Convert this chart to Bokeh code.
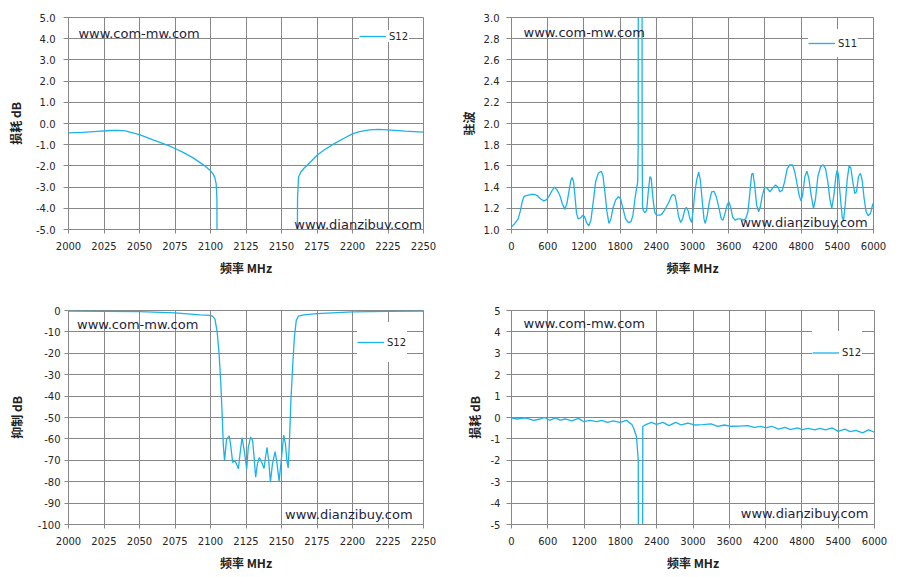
from bokeh.plotting import figure
from bokeh.models import (FixedTicker, NumeralTickFormatter, Legend, LegendItem,
                          Label, Range1d)
from bokeh.layouts import column, row
from bokeh.embed import file_html
from bokeh.resources import INLINE

# ---------------- data ----------------
# Chart 1: S12 insertion loss, 2000-2250 MHz
f_s12_pass = [2000, 2010, 2020, 2030, 2035, 2040, 2050, 2060, 2070, 2075, 2080, 2087.5,
              2095, 2100, 2102, 2103, 2104, 2104.5, 2105, 2160.8, 2161.3, 2162, 2163.5,
              2166, 2170, 2175, 2180, 2187.5, 2195, 2200, 2205, 2212, 2218, 2225, 2237, 2250]
s12_pass = [-0.44, -0.42, -0.37, -0.33, -0.32, -0.35, -0.52, -0.78, -1.03, -1.18, -1.34, -1.61,
            -1.95, -2.23, -2.40, -2.54, -2.85, -3.5, -12.0, -12.0, -3.5, -2.54, -2.30,
            -2.10, -1.84, -1.50, -1.25, -0.94, -0.66, -0.49, -0.38, -0.30, -0.28, -0.30, -0.36, -0.41]

# Chart 2: S11 VSWR, 0-6000 MHz
f_s11 = [0, 55, 111, 149, 177, 205, 243, 315, 387, 426, 481, 536, 575, 619, 675, 713, 758,
         802, 841, 885, 918, 951, 984, 1006, 1029, 1051, 1078, 1106, 1145, 1183, 1211, 1244,
         1283, 1316, 1355, 1394, 1438, 1488, 1515, 1548, 1582, 1615, 1648, 1681, 1725, 1770,
         1808, 1847, 1891, 1936, 1980, 2013, 2046, 2074, 2092, 2100, 2104, 2160, 2165, 2172,
         2184, 2212, 2240, 2267, 2295, 2317, 2339, 2372, 2405, 2460, 2499, 2554, 2610, 2654,
         2682, 2710, 2737, 2770, 2803, 2836, 2870, 2898, 2925, 2958, 2986, 3014, 3041, 3069,
         3102, 3130, 3163, 3190, 3212, 3245, 3279, 3317, 3356, 3395, 3439, 3477, 3505, 3538,
         3577, 3604, 3632, 3665, 3704, 3753, 3798, 3842, 3881, 3919, 3952, 3980, 4002, 4030,
         4063, 4096, 4124, 4157, 4195, 4239, 4283, 4327, 4377, 4416, 4449, 4488, 4526, 4570,
         4614, 4659, 4697, 4736, 4769, 4797, 4824, 4863, 4896, 4929, 4968, 5006, 5039, 5078,
         5122, 5166, 5205, 5243, 5276, 5309, 5343, 5376, 5398, 5420, 5453, 5481, 5503, 5530,
         5563, 5596, 5624, 5657, 5690, 5718, 5751, 5784, 5812, 5845, 5878, 5911, 5950, 5983,
         6000]
vswr_s11 = [1.025, 1.057, 1.10, 1.18, 1.26, 1.31, 1.32, 1.33, 1.33, 1.32, 1.29, 1.27, 1.28,
            1.31, 1.37, 1.40, 1.37, 1.32, 1.245, 1.19, 1.245, 1.355, 1.465, 1.49, 1.45, 1.32,
            1.15, 1.10, 1.11, 1.135, 1.12, 1.066, 1.035, 1.088, 1.26, 1.45, 1.53, 1.55, 1.51,
            1.355, 1.167, 1.057, 1.10, 1.20, 1.277, 1.31, 1.29, 1.20, 1.10, 1.066, 1.072, 1.135,
            1.29, 1.39, 1.45, 1.8, 9.0, 9.0, 1.8, 1.22, 1.18, 1.16, 1.18, 1.355, 1.50, 1.48,
            1.32, 1.167, 1.135, 1.135, 1.15, 1.20, 1.26, 1.32, 1.33, 1.32, 1.245, 1.12, 1.066,
            1.10, 1.18, 1.21, 1.18, 1.10, 1.066, 1.20, 1.36, 1.465, 1.54, 1.465, 1.26, 1.10,
            1.057, 1.135, 1.26, 1.355, 1.36, 1.31, 1.20, 1.10, 1.088, 1.15, 1.236, 1.26, 1.21,
            1.12, 1.088, 1.10, 1.10, 1.088, 1.10, 1.167, 1.355, 1.52, 1.53, 1.42, 1.23, 1.167,
            1.214, 1.32, 1.40, 1.39, 1.355, 1.39, 1.42, 1.40, 1.355, 1.37, 1.45, 1.575, 1.61,
            1.61, 1.54, 1.42, 1.32, 1.27, 1.32, 1.50, 1.55, 1.48, 1.32, 1.20, 1.29, 1.50, 1.59,
            1.61, 1.575, 1.45, 1.29, 1.20, 1.32, 1.50, 1.56, 1.51, 1.29, 1.12, 1.08, 1.23,
            1.465, 1.60, 1.58, 1.45, 1.34, 1.355, 1.50, 1.53, 1.465, 1.29, 1.167, 1.13, 1.15,
            1.23, 1.25]

# Chart 3: S12 rejection, 2000-2250 MHz
f_s12_rej = [2000, 2025, 2050, 2075, 2092.5, 2100, 2101.4, 2103.1, 2104.7, 2106.1, 2107.3,
             2108.3, 2109.0, 2109.9, 2111.3, 2113.2, 2114.4, 2115.6, 2117.0, 2118.4, 2119.6,
             2120.8, 2122.2, 2123.6, 2125.5, 2126.6, 2128.3, 2129.7, 2130.9, 2131.8, 2133.0,
             2134.4, 2136.1, 2137.7, 2138.7, 2139.8, 2141.0, 2142.2, 2143.6, 2145.5, 2146.9,
             2148.3, 2149.8, 2151.6, 2152.8, 2153.8, 2154.7, 2155.6, 2156.6, 2157.8, 2159.0,
             2160.4, 2162.0, 2165.6, 2175, 2200, 2225, 2250]
s12_rej = [-0.3, -0.4, -0.5, -1.1, -2.0, -2.3, -2.6, -3.9, -10.0, -20.8, -34.7, -50.0, -62.5,
           -70.2, -60.2, -58.6, -64.0, -71.0, -70.2, -71.8, -74.0, -67.0, -59.4, -64.8, -74.0,
           -64.0, -59.1, -60.9, -70.2, -77.9, -71.8, -68.7, -71.0, -73.8, -68.7, -64.0, -70.2,
           -80.2, -71.8, -65.9, -71.8, -79.8, -70.2, -58.2, -62.5, -70.2, -73.6, -61.0, -42.4,
           -27.0, -13.1, -4.6, -2.6, -2.0, -1.5, -0.6, -0.4, -0.3]

# Chart 4: S12 wideband loss, 0-6000 MHz
f_s12_wide = [0, 93, 230, 367, 477, 548, 630, 723, 805, 888, 997, 1107, 1189, 1299, 1408, 1490,
              1584, 1682, 1792, 1902, 1950, 1990, 2020, 2066, 2095, 2102, 2165, 2170, 2219, 2312,
              2395, 2504, 2603, 2713, 2806, 2916, 3025, 3162, 3299, 3409, 3518, 3628, 3765, 3902,
              4012, 4121, 4203, 4302, 4411, 4521, 4614, 4724, 4806, 4904, 5014, 5097, 5190, 5299,
              5398, 5508, 5600, 5693, 5803, 5902, 6000]
s12_wide = [-0.02, -0.07, -0.02, -0.13, -0.07, 0.0, -0.13, -0.02, -0.12, -0.07, -0.16, -0.04,
            -0.19, -0.13, -0.19, -0.13, -0.23, -0.16, -0.23, -0.13, -0.25, -0.33, -0.50, -0.90,
            -2.0, -12.0, -12.0, -0.42, -0.33, -0.23, -0.32, -0.23, -0.38, -0.23, -0.35, -0.26,
            -0.35, -0.33, -0.30, -0.41, -0.35, -0.41, -0.40, -0.38, -0.46, -0.41, -0.49, -0.41,
            -0.54, -0.46, -0.57, -0.48, -0.57, -0.51, -0.58, -0.51, -0.58, -0.48, -0.65, -0.54,
            -0.66, -0.60, -0.72, -0.58, -0.69]

# ticks
ticks_x_narrow = [2000, 2025, 2050, 2075, 2100, 2125, 2150, 2175, 2200, 2225, 2250]
ticks_x_wide = [0, 600, 1200, 1800, 2400, 3000, 3600, 4200, 4800, 5400, 6000]
ticks_y_loss = [-5, -4, -3, -2, -1, 0, 1, 2, 3, 4, 5]
ticks_y_vswr = [1.0, 1.2, 1.4, 1.6, 1.8, 2.0, 2.2, 2.4, 2.6, 2.8, 3.0]
ticks_y_rej = [-100, -90, -80, -70, -60, -50, -40, -30, -20, -10, 0]

LINE = "#1AB2EC"
GRID = "#878787"
TXT = "#262626"
WM = "#1E1E3C"
CJK = "Noto Sans CJK SC"
NUM = "DejaVu Sans"


def make_fig(xr, yr, w, h, bl, br, bt, bb, xt, yt, yfmt, ylab,
             y_tout, y_std, y_als):
    p = figure(width=w, height=h, x_range=Range1d(*xr), y_range=Range1d(*yr),
               output_backend="svg", toolbar_location=None,
               min_border_left=bl, min_border_right=br, min_border_top=bt,
               min_border_bottom=bb, background_fill_color="white",
               border_fill_color="white", outline_line_color=GRID)
    for ax, ticks, fmt in ((p.xaxis[0], xt, "0"), (p.yaxis[0], yt, yfmt)):
        ax.ticker = FixedTicker(ticks=ticks)
        ax.formatter = NumeralTickFormatter(format=fmt)
        ax.axis_line_color = GRID
        ax.major_tick_line_color = GRID
        ax.minor_tick_line_color = None
        ax.major_tick_in = 0
        ax.major_label_text_font = NUM
        ax.major_label_text_font_size = "10px"
        ax.major_label_text_color = TXT
        ax.axis_label_text_font = CJK
        ax.axis_label_text_font_size = "12px"
        ax.axis_label_text_font_style = "bold"
        ax.axis_label_text_color = "#222222"
    p.xaxis[0].major_tick_out = 4
    p.xaxis[0].major_label_standoff = 8
    p.xaxis[0].axis_label_standoff = 6
    p.xaxis[0].axis_label = "频率 MHz"
    p.yaxis[0].major_tick_out = y_tout
    p.yaxis[0].major_label_standoff = y_std
    p.yaxis[0].axis_label_standoff = y_als
    p.yaxis[0].axis_label = ylab
    p.xgrid.ticker = FixedTicker(ticks=xt)
    p.ygrid.ticker = FixedTicker(ticks=yt)
    p.xgrid.grid_line_color = GRID
    p.ygrid.grid_line_color = GRID
    return p


def add_legend(p, r, name, loc, lh):
    lg = Legend(items=[LegendItem(label=name, renderers=[r])], location=loc,
                border_line_color=None, background_fill_color="white",
                background_fill_alpha=1.0, padding=5, margin=0, spacing=0,
                glyph_width=27, glyph_height=lh, label_height=lh, label_standoff=3,
                label_text_font=NUM, label_text_font_size="10px", label_text_color=TXT)
    p.add_layout(lg)


def add_wm(p, x1, y1, x2, y2):
    for x, y, t in ((x1, y1, "www.com-mw.com"), (x2, y2, "www.dianzibuy.com")):
        p.add_layout(Label(x=x, y=y, text=t, text_font=NUM, text_font_size="13px",
                           text_color=WM, text_baseline="middle", text_align="left"))


# Chart 1 (top-left)
p1 = make_fig((2000, 2250), (-5, 5), 450, 290, 68, 27, 13, 61,
              ticks_x_narrow, ticks_y_loss, "0.0", "损耗 dB", 5, 8, 9)
r1 = p1.line(f_s12_pass, s12_pass, line_color=LINE, line_width=1.3)
add_wm(p1, 2007.0, 4.25, 2159.0, -4.75)
add_legend(p1, r1, "S12", (291, 187), 12)

# Chart 2 (top-right)
p2 = make_fig((0, 6000), (1.0, 3.0), 448, 290, 61, 25, 17, 58,
              ticks_x_wide, ticks_y_vswr, "0.0", "驻波", 5, 7, 4)
r2 = p2.line(f_s11, vswr_s11, line_color=LINE, line_width=1.3)
add_wm(p2, 200, 2.86, 3790, 1.07)
add_legend(p2, r2, "S11", (297, 172), 28)

# Chart 3 (bottom-left)
p3 = make_fig((2000, 2250), (-100, 0), 450, 285, 68, 27, 16, 51,
              ticks_x_narrow, ticks_y_rej, "0", "抑制 dB", 4, 4, 10)
r3 = p3.line(f_s12_rej, s12_rej, line_color=LINE, line_width=1.3)
add_wm(p3, 2006.0, -6.5, 2152.5, -95.5)
add_legend(p3, r3, "S12", (289, 162), 40)

# Chart 4 (bottom-right)
p4 = make_fig((0, 6000), (-5, 5), 448, 285, 61, 24, 20, 50,
              ticks_x_wide, ticks_y_loss, "0", "损耗 dB", 5, 6, 5)
r4 = p4.line(f_s12_wide, s12_wide, line_color=LINE, line_width=1.3)
add_wm(p4, 200, 4.41, 3790, -4.5)
add_legend(p4, r4, "S12", (301, 150), 43)

layout = column(row(p1, p2), row(p3, p4))
open("out.html", "w").write(file_html(layout, INLINE))
